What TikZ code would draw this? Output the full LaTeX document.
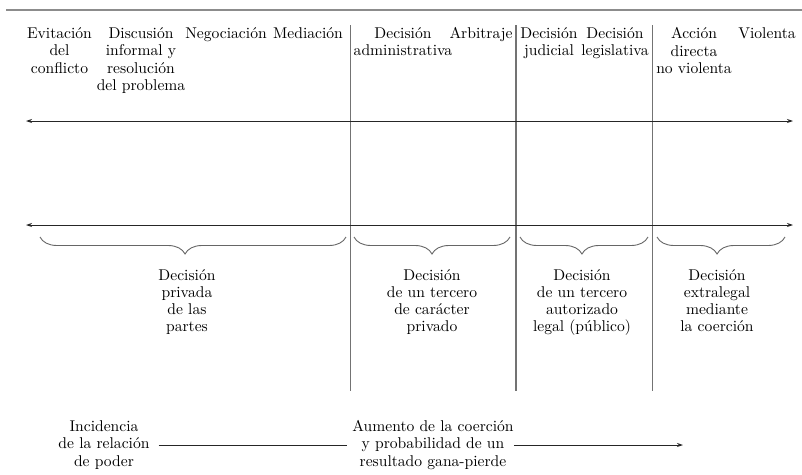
\documentclass[tikz,border=0pt]{standalone}
\usepackage{fontspec}
\setmainfont{lmroman10-regular.otf}
\usetikzlibrary{decorations.pathreplacing,arrows.meta}

\tikzset{
  lbl/.style={align=center,inner sep=0pt,font=\fontsize{15.6}{17.3}\selectfont},
  topbar/.style={draw=black!45,line width=2.5pt},
  divider/.style={draw=black!55,line width=1.1pt},
  axis/.style={{Stealth[length=6pt,width=4pt]}-{Stealth[length=6pt,width=4pt]},line width=0.9pt,draw=black!85},
  brc/.style={decorate,decoration={brace,mirror,amplitude=17pt},draw=black!60,line width=0.9pt},
}

\begin{document}
\begin{tikzpicture}[x=1pt,y=-1pt]
    \useasboundingbox (0,0) rectangle (802,474);
    \draw[topbar] (6,10) -- (802,10);

    % dividers
    \foreach \x/\n in {350.5/1,516/2,652.5/3}{
        \coordinate (v\n t) at (\x,25);
        \coordinate (v\n b) at (\x,391);
        \draw[divider] (v\n t) -- (v\n b);
    }

    % the two axes
    \coordinate (upw) at (26,121);
    \coordinate (upe) at (793,121);
    \coordinate (lowe) at (793,225);
    \coordinate (loww) at (26,225);
    \draw[axis] (upw) -- (upe);
    \draw[axis] (loww) -- (lowe);

    % top labels
    \node[lbl,anchor=north] (evit) at (59.5,27.5) {Evitación\\del\\conflicto};
    \node[lbl,anchor=north] (disc) at (141,27.5) {Discusión\\informal y\\resolución\\del problema};
    \node[lbl,anchor=north] (nego) at (226,27.5) {Negociación};
    \node[lbl,anchor=north] (medi) at (308,27.5) {Mediación};
    \node[lbl,anchor=north] (admi) at (403,27.5) {Decisión\\administrativa};
    \node[lbl,anchor=north] (arbi) at (481,27.5) {Arbitraje};
    \node[lbl,anchor=north] (judi) at (549,27.5) {Decisión\\judicial};
    \node[lbl,anchor=north] (legi) at (615,27.5) {Decisión\\legislativa};
    \node[lbl,anchor=north] (acci) at (694,27.5) {Acción\\directa\\no violenta};
    \node[lbl,anchor=north] (viol) at (767,27.5) {Violenta};

    % braces
    \foreach \l/\r/\a/\n in {40/346/0.474/1,354/510/0.5/2,520/648/0.484/3,657/785/0.469/4}{
        \coordinate (b\n l) at (\l,237);
        \coordinate (b\n r) at (\r,237);
        \draw[brc,decoration={aspect=\a}] (b\n l) -- (b\n r);
    }

    \node[lbl,anchor=north] (priv) at (187,269) {Decisión\\privada\\de las\\partes};
    \node[lbl,anchor=north] (terp) at (432,269) {Decisión\\de un tercero\\de carácter\\privado};
    \node[lbl,anchor=north] (terl) at (582,269) {Decisión\\de un tercero\\autorizado\\legal (público)};
    \node[lbl,anchor=north] (extr) at (717,269) {Decisión\\extralegal\\mediante\\la coerción};

    % bottom line
    \node[lbl] (inci) at (104,445) {Incidencia\\de la relación\\de poder};
    \node[lbl] (aume) at (433,445) {Aumento de la coerción\\y probabilidad de un\\resultado gana-pierde};
    \coordinate (fin) at (683,445);
    \draw[line width=0.9pt,draw=black!85,shorten <=9pt,shorten >=5pt] (inci) -- (aume);
    \draw[line width=0.9pt,draw=black!85,-{Stealth[length=6pt,width=4pt]}] (aume.east) -- (fin);
\end{tikzpicture}
\end{document}
